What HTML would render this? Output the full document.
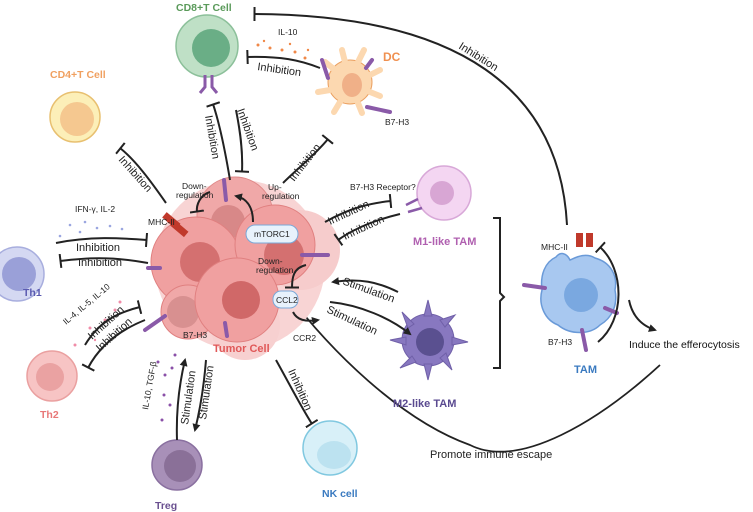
<!DOCTYPE html>
<html><head><meta charset="utf-8"><style>
html,body{margin:0;padding:0;background:#fff}
svg{display:block}
text{font-family:"Liberation Sans",sans-serif}
.l{font-size:11px;fill:#222}
.s{font-size:8.5px;fill:#222}
.t{font-size:10.5px;font-weight:bold}
.k{fill:none;stroke:#222;stroke-width:2}
</style></head><body>
<svg width="753" height="512" viewBox="0 0 753 512" xmlns="http://www.w3.org/2000/svg">
<defs>
<marker id="ar" markerWidth="8" markerHeight="8" refX="6" refY="4" orient="auto" markerUnits="userSpaceOnUse"><path d="M0,0 L8,4 L0,8 z" fill="#222"/></marker>
<marker id="tb" markerWidth="4" markerHeight="14" refX="2" refY="7" orient="auto" markerUnits="userSpaceOnUse"><rect x="0.5" y="0" width="2" height="14" fill="#222"/></marker>
</defs>

<!-- big arcs -->
<path class="k" d="M567,225 C560,90 460,15 254,14" stroke="#444" stroke-width="1.6" marker-end="url(#tb)"/>
<text class="l" transform="translate(458,48) rotate(32)">Inhibition</text>
<path d="M660,365 C600,420 520,470 470,445 C400,420 330,350 286,292" fill="none" stroke="#222" stroke-width="1.8" marker-end="url(#ar)"/>
<text class="l" x="430" y="458">Promote immune escape</text>

<!-- tumor cluster -->
<g>
<circle cx="240" cy="265" r="85" fill="#f8d4d4"/>
<circle cx="300" cy="250" r="40" fill="#f6cccc"/>
<circle cx="245" cy="325" r="35" fill="#f7d0d0"/>
<circle cx="235" cy="215" r="38" fill="#f0a8a8" stroke="#e08a8a"/>
<circle cx="228" cy="222" r="17" fill="#d88888"/>
<circle cx="196" cy="262" r="45" fill="#f0a0a0" stroke="#e08080"/>
<circle cx="200" cy="262" r="20" fill="#d47070"/>
<circle cx="275" cy="245" r="40" fill="#f0a0a0" stroke="#e08080"/>
<circle cx="284" cy="255" r="20" fill="#d47070"/>
<circle cx="188" cy="312" r="27" fill="#f0a8a8" stroke="#e08080"/>
<circle cx="183" cy="312" r="16" fill="#d89090"/>
<circle cx="237" cy="300" r="42" fill="#f0a0a0" stroke="#e08080"/>
<circle cx="241" cy="300" r="19" fill="#d06868"/>
<rect x="246" y="225" width="52" height="18" rx="9" fill="#e8f2fc" stroke="#7aa8d8"/>
<text class="s" x="254" y="237" fill="#223">mTORC1</text>
<rect x="273" y="291" width="25" height="17" rx="8" fill="#e8f2fc" stroke="#7aa8d8"/>
<text class="s" x="276" y="303">CCL2</text>
<!-- receptors -->
<g stroke="#8a5aa8" stroke-width="4" stroke-linecap="round">
<line x1="224" y1="180" x2="226" y2="200"/><line x1="302" y1="255" x2="328" y2="255"/>
<line x1="148" y1="268" x2="160" y2="268"/><line x1="145" y1="330" x2="165" y2="316"/>
<line x1="225" y1="323" x2="227" y2="336"/></g>
<g fill="#c0392b"><rect x="168" y="212" width="7" height="18" transform="rotate(-50 171 221)"/><rect x="176" y="220" width="7" height="18" transform="rotate(-50 179 229)"/></g>
</g>
<text class="s" x="148" y="225">MHC-II</text>
<text class="s" x="182" y="189">Down-</text><text class="s" x="176" y="198">regulation</text>
<path class="k" stroke-width="1.3" d="M210,192 C200,195 196,205 197,212" marker-end="url(#tb)"/>
<text class="s" x="268" y="190">Up-</text><text class="s" x="262" y="199">regulation</text>
<path class="k" stroke-width="1.3" d="M253,222 C253,205 245,198 236,196" marker-end="url(#ar)"/>
<text class="s" x="258" y="264">Down-</text><text class="s" x="256" y="273">regulation</text>
<path class="k" stroke-width="1.3" d="M306,265 C293,268 292,278 292,288" marker-end="url(#tb)"/>
<text class="s" x="183" y="338">B7-H3</text>
<text class="s" x="293" y="341">CCR2</text>
<path class="k" stroke-width="1.3" d="M293,312 C297,320 305,322 318,320" marker-end="url(#ar)"/>
<text x="213" y="352" style="font-size:11px;font-weight:bold;fill:#e05858">Tumor Cell</text>

<!-- CD8 -->
<text class="t" x="176" y="11" fill="#5a9a5a">CD8+T Cell</text>
<circle cx="207" cy="46" r="31" fill="#bfe0c6" stroke="#8cc09a" stroke-width="1.5"/>
<circle cx="211" cy="48" r="19" fill="#6aae86"/>
<path d="M205,75 v12 l-5,6 M212,75 v12 l5,6" stroke="#8a5aa8" stroke-width="3" fill="none"/>
<path class="k" d="M320,68 C300,60 280,56 247,57" marker-end="url(#tb)"/>
<text class="l" transform="translate(257,70) rotate(8)">Inhibition</text>
<text class="s" x="278" y="35">IL-10</text>
<g fill="#f08848"><circle cx="258" cy="45" r="1.5"/><circle cx="270" cy="48" r="1.5"/><circle cx="282" cy="50" r="1.5"/><circle cx="295" cy="52" r="1.5"/><circle cx="305" cy="58" r="1.5"/><circle cx="290" cy="44" r="1.2"/><circle cx="264" cy="41" r="1.2"/><circle cx="308" cy="50" r="1.2"/></g>

<!-- CD8 inhibitions -->
<path class="k" d="M230,180 C225,150 220,125 213,104" marker-end="url(#tb)"/>
<path class="k" d="M236,110 C240,130 243,150 242,172" marker-end="url(#tb)"/>
<text class="l" transform="translate(205,116) rotate(80)">Inhibition</text>
<text class="l" transform="translate(237,110) rotate(70)">Inhibition</text>

<!-- CD4 -->
<text class="t" x="50" y="78" fill="#f0a060">CD4+T Cell</text>
<circle cx="75" cy="117" r="25" fill="#fcefb8" stroke="#e8c070" stroke-width="1.5"/>
<circle cx="77" cy="119" r="17" fill="#f5c890"/>
<path class="k" d="M166,203 C150,180 135,160 120,148" marker-end="url(#tb)"/>
<text class="l" transform="translate(118,160) rotate(48)">Inhibition</text>

<!-- DC -->
<text class="t" x="383" y="61" fill="#f09050" style="font-size:12px">DC</text>
<g fill="#fcd8b0" stroke="#eba060" stroke-width="1">
<circle cx="350" cy="82" r="22"/>
<path d="M335,70 l-10,-8 M345,62 l-3,-12 M358,62 l6,-12 M368,76 l12,-6 M370,92 l10,4 M358,103 l4,10 M340,102 l-6,10 M330,90 l-12,2" stroke="#fcd8b0" stroke-width="6" stroke-linecap="round"/>
</g>
<ellipse cx="352" cy="85" rx="10" ry="12" fill="#f0b088"/>
<g stroke="#8a5aa8" stroke-width="4" stroke-linecap="round"><line x1="322" y1="60" x2="328" y2="78"/><line x1="366" y1="68" x2="372" y2="60"/><line x1="367" y1="107" x2="390" y2="112"/></g>
<text class="s" x="385" y="125">B7-H3</text>
<path class="k" d="M283,183 C298,168 315,155 328,139" marker-end="url(#tb)"/>
<text class="l" transform="translate(294,182) rotate(-52)">Inhibition</text>

<!-- Th1 -->
<circle cx="17" cy="274" r="27" fill="#d4d8f2" stroke="#a8aede" stroke-width="1.5"/>
<circle cx="19" cy="274" r="17" fill="#9aa0d8"/>
<text class="t" x="23" y="296" fill="#5a5ab0">Th1</text>
<text class="s" x="75" y="212">IFN-γ, IL-2</text>
<g fill="#9aa6e0"><circle cx="70" cy="225" r="1.3"/><circle cx="85" cy="222" r="1.3"/><circle cx="97" cy="228" r="1.3"/><circle cx="110" cy="226" r="1.3"/><circle cx="122" cy="229" r="1.3"/><circle cx="80" cy="232" r="1.3"/><circle cx="60" cy="236" r="1.3"/></g>
<path class="k" d="M56,243 C90,236 120,238 147,240" marker-end="url(#tb)"/>
<path class="k" d="M148,263 C110,256 85,258 60,261" marker-end="url(#tb)"/>
<text class="l" x="76" y="251">Inhibition</text>
<text class="l" x="78" y="266">Inhibition</text>

<!-- Th2 -->
<circle cx="52" cy="376" r="25" fill="#f7c4c4" stroke="#eaa0a0" stroke-width="1.5"/>
<circle cx="50" cy="377" r="14" fill="#eaa2a2"/>
<text class="t" x="40" y="418" fill="#e87878">Th2</text>
<text class="s" transform="translate(66,325) rotate(-40)">IL-4, IL-5, IL-10</text>
<g fill="#f08ca8"><circle cx="75" cy="345" r="1.5"/><circle cx="90" cy="328" r="1.5"/><circle cx="105" cy="320" r="1.5"/><circle cx="115" cy="310" r="1.5"/><circle cx="120" cy="302" r="1.5"/><circle cx="95" cy="340" r="1.2"/></g>
<path class="k" d="M85,345 C100,320 120,312 140,307" marker-end="url(#tb)"/>
<path class="k" d="M145,320 C120,330 100,345 88,368" marker-end="url(#tb)"/>
<text class="l" transform="translate(92,340) rotate(-42)">Inhibition</text>
<text class="l" transform="translate(100,352) rotate(-42)">Inhibition</text>

<!-- Treg -->
<circle cx="177" cy="465" r="25" fill="#a890b8" stroke="#8a70a0" stroke-width="1.5"/>
<circle cx="180" cy="466" r="16" fill="#8a7098"/>
<text class="t" x="155" y="509" fill="#6a5090">Treg</text>
<text class="s" transform="translate(148,410) rotate(-80)">IL-10, TGF-β</text>
<g fill="#8a50a8"><circle cx="158" cy="362" r="1.5"/><circle cx="165" cy="375" r="1.5"/><circle cx="172" cy="368" r="1.5"/><circle cx="164" cy="395" r="1.5"/><circle cx="170" cy="405" r="1.5"/><circle cx="162" cy="420" r="1.5"/><circle cx="175" cy="355" r="1.5"/></g>
<path class="k" d="M177,440 C176,410 179,385 185,360" marker-end="url(#ar)"/>
<path class="k" d="M206,360 C204,385 200,410 195,430" marker-end="url(#ar)"/>
<text class="l" transform="translate(188,425) rotate(-82)">Stimulation</text>
<text class="l" transform="translate(206,420) rotate(-82)">Stimulation</text>

<!-- NK -->
<circle cx="330" cy="448" r="27" fill="#d8f0f8" stroke="#80c8e0" stroke-width="1.5"/>
<ellipse cx="334" cy="455" rx="17" ry="14" fill="#bce2f0"/>
<text class="t" x="322" y="497" fill="#3a7ac0">NK cell</text>
<path class="k" d="M276,360 C290,385 300,405 312,424" marker-end="url(#tb)"/>
<text class="l" transform="translate(288,371) rotate(66)">Inhibition</text>

<!-- M1 -->
<circle cx="444" cy="193" r="27" fill="#f4d6f2" stroke="#d8a8d8" stroke-width="1.5"/>
<circle cx="442" cy="193" r="12" fill="#d8a6d4"/>
<path d="M406,205 l12,-6 M408,212 l14,-4" stroke="#8a5aa8" stroke-width="2.5"/>
<text class="t" x="413" y="245" fill="#b060b0" style="font-size:11px">M1-like TAM</text>
<text class="s" x="350" y="190">B7-H3 Receptor?</text>
<path class="k" d="M325,222 C350,208 370,203 391,201" marker-end="url(#tb)"/>
<path class="k" d="M400,214 C375,220 355,228 338,240" marker-end="url(#tb)"/>
<text class="l" transform="translate(330,225) rotate(-25)">Inhibition</text>
<text class="l" transform="translate(345,240) rotate(-25)">Inhibition</text>

<!-- M2 -->
<g fill="#8878c0" stroke="#7060a8">
<circle cx="428" cy="340" r="26"/>
<path d="M428,300 l4,16 l-8,0z M455,315 l-10,12 l-5,-7z M468,342 l-16,3 l0,-8z M452,370 l-12,-12 l6,-5z M428,380 l-4,-16 l8,0z M400,368 l12,-12 l4,6z M390,340 l16,-3 l0,8z M402,312 l12,12 l-6,4z"/>
</g>
<circle cx="430" cy="342" r="14" fill="#5a5090"/>
<text class="t" x="393" y="407" fill="#5a4a90" style="font-size:11px">M2-like TAM</text>
<path class="k" d="M398,292 C378,282 360,278 333,282" marker-end="url(#ar)"/>
<path class="k" d="M330,302 C360,305 390,318 410,334" marker-end="url(#ar)"/>
<text class="l" transform="translate(342,284) rotate(20)">Stimulation</text>
<text class="l" transform="translate(326,312) rotate(25)">Stimulation</text>

<!-- bracket -->
<path d="M493,218 h7 v75 l4,4 l-4,4 v67 h-7" fill="none" stroke="#222" stroke-width="2"/>

<!-- TAM -->
<path d="M556,257 C545,262 540,275 542,290 C538,305 545,320 558,325 C570,335 590,335 600,325 C612,318 618,305 615,290 C618,275 610,262 595,258 C585,252 575,258 570,260 C566,252 560,252 556,257z" fill="#a8c8f0" stroke="#6a9ad8" stroke-width="1.5"/>
<circle cx="581" cy="295" r="17" fill="#7aa8e0"/>
<g fill="#c0392b"><rect x="576" y="233" width="7" height="14"/><rect x="586" y="233" width="7" height="14"/></g>
<text class="s" x="541" y="250">MHC-II</text>
<g stroke="#8a5aa8" stroke-width="4" stroke-linecap="round"><line x1="524" y1="285" x2="545" y2="288"/><line x1="605" y1="308" x2="617" y2="313"/><line x1="582" y1="330" x2="586" y2="350"/></g>
<text class="s" x="548" y="345">B7-H3</text>
<text class="t" x="574" y="373" fill="#3a7ac0" style="font-size:11px">TAM</text>
<path class="k" stroke-width="1.6" d="M598,342 C625,320 625,270 600,247" marker-end="url(#tb)"/>
<path class="k" stroke-width="1.6" d="M629,300 C632,315 640,325 655,330" marker-end="url(#ar)"/>
<text x="629" y="348" style="font-size:10.5px;fill:#111">Induce the efferocytosis</text>
</svg>
</body></html>
